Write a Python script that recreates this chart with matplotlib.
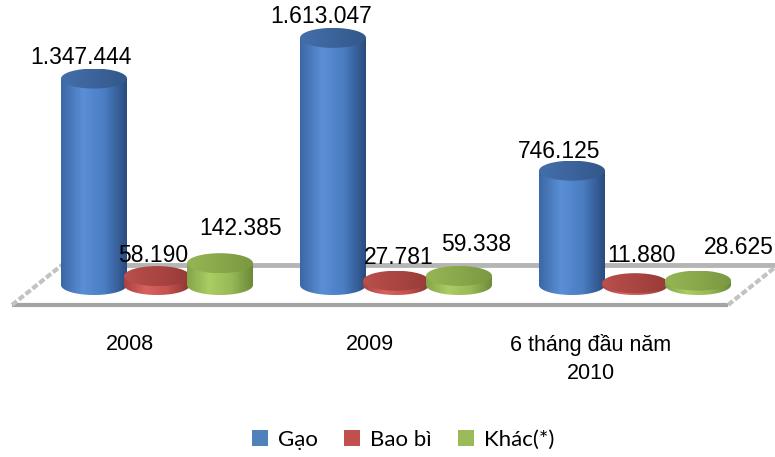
import numpy as np
import matplotlib
matplotlib.use("Agg")
import matplotlib.pyplot as plt
from matplotlib.patches import Ellipse, PathPatch, Polygon, Patch
from matplotlib.path import Path
from matplotlib.colors import LinearSegmentedColormap

# data
categories = ["2008", "2009", "6 tháng đầu năm\n2010"]
series_names = ["Gạo", "Bao bì", "Khác(*)"]
gao = [1347444, 1613047, 746125]
bao_bi = [58190, 27781, 11880]
khac = [142385, 59338, 28625]
values = [gao, bao_bi, khac]

# styles: body gradient stops, top gradient stops, legend colour
side_cols = [["#3b67a4", "#5a8fd6", "#4a7dc2", "#2a4b7e"],
             ["#a8423f", "#da625e", "#c4524e", "#8a3432"],
             ["#84a548", "#aacd64", "#98ba57", "#6d8937"]]
top_cols = [["#446fab", "#3c649b", "#335889"],
            ["#b9504c", "#aa4542", "#973b38"],
            ["#95b555", "#88a84b", "#7a9841"]]
legend_cols = ["#4f81bd", "#c0504d", "#9bbb59"]
# data label offsets in pixels (dx, dy) from top of each cylinder
label_off = [[(-13, 21), (-12, 21), (-13, 19)],
             [(-4, 21), (3, 23), (6, 28)],
             [(21, 35), (17, 31), (41, 33)]]
cat_dx = [-27, -26, -44]

W, H, DPI = 775, 457, 100
PX_X = 239.0          # pixels per category
X0 = 157.0            # pixel x of category 0 centre
PX_V = 153.2e-6       # pixels per unit value
BASE = 172.0          # pixel y (from bottom) of value 0


def dx(p):
    return p / PX_X


def dy(p):
    return p / PX_V


def fmt(v):
    return "{:,}".format(v).replace(",", ".")


fig = plt.figure(figsize=(W / DPI, H / DPI), dpi=DPI)
ax = fig.add_axes([0, 0, 1, 1])
ax.axis("off")

# floor
half = dy(20)
fl, fr, shift = dx(12 - X0), dx(728 - X0), dx(50)
floor = Polygon([(fl, -half), (fr, -half), (fr + shift, half), (fl + shift, half)],
                closed=True, facecolor="white", edgecolor="none", zorder=1)
ax.add_patch(floor)
ax.plot([fl, fr], [-half, -half], color="#a3a3a3", lw=3, zorder=2, solid_capstyle="butt")
ax.plot([fl + shift, fr + shift], [half, half], color="#b5b5b5", lw=3.5, zorder=2, solid_capstyle="butt")
for xa in (fl, fr):
    ax.plot([xa, xa + shift], [-half, half], color="#c2c2c2", lw=3, zorder=2,
            dashes=(1.5, 0.6), solid_capstyle="butt")


def gradient_fill(x0, x1, y0, y1, cols, clip, z):
    cmap = LinearSegmentedColormap.from_list("g", cols)
    img = np.linspace(0, 1, 256).reshape(1, -1)
    im = ax.imshow(img, cmap=cmap, extent=[x0, x1, y0, y1], aspect="auto",
                   interpolation="bilinear", zorder=z)
    im.set_clip_path(clip)


def cylinder(xc, v, w, eh, body, top, z):
    x0, x1 = xc - w / 2, xc + w / 2
    t = np.linspace(np.pi, 2 * np.pi, 80)
    verts = [(x0, v)] + list(zip(xc + w / 2 * np.cos(t), eh / 2 * np.sin(t))) + [(x1, v), (x0, v)]
    codes = [Path.MOVETO] + [Path.LINETO] * (len(verts) - 2) + [Path.CLOSEPOLY]
    bp = PathPatch(Path(verts, codes), facecolor="none", edgecolor="none", transform=ax.transData)
    ax.add_patch(bp)
    gradient_fill(x0, x1, -eh / 2, v, body, bp, z)
    el = Ellipse((xc, v), w, eh, facecolor="none", edgecolor="none", transform=ax.transData)
    ax.add_patch(el)
    gradient_fill(x0, x1, v - eh / 2, v + eh / 2, top, el, z + 0.1)


cw, off, eh = dx(66), dx(63), dy(20)
for s, vals in enumerate(values):
    for c, v in enumerate(vals):
        xc = c + (s - 1) * off
        cylinder(xc, v, cw, eh, side_cols[s], top_cols[s], 3 + s)
        ox, oy = label_off[s][c]
        ax.annotate(fmt(v), (xc, v), xytext=(ox, oy), textcoords="offset pixels",
                    ha="center", va="center", fontsize=16.5,
                    family=["Liberation Sans", "DejaVu Sans"], color="black", zorder=10)

for c, name in enumerate(categories):
    ax.annotate(name, (c, 0), xytext=(cat_dx[c], -49), textcoords="offset pixels",
                ha="center", va="top", fontsize=15.5, linespacing=1.45,
                family=["Liberation Sans", "DejaVu Sans"], color="black")

handles = [Patch(facecolor=legend_cols[i], edgecolor="none", label=series_names[i]) for i in range(3)]
fig.legend(handles=handles, loc="center", bbox_to_anchor=(403 / W, 1 - 440 / H), ncol=3,
           frameon=False, handlelength=0.7, handleheight=0.7, handletextpad=0.45,
           columnspacing=1.2, prop={"family": ["Lato", "Open Sans", "DejaVu Sans"], "size": 16})

ax.set_xlim(-X0 / PX_X, (W - X0) / PX_X)
ax.set_ylim(-BASE / PX_V, (H - BASE) / PX_V)
fig.savefig("out.png", dpi=DPI)
